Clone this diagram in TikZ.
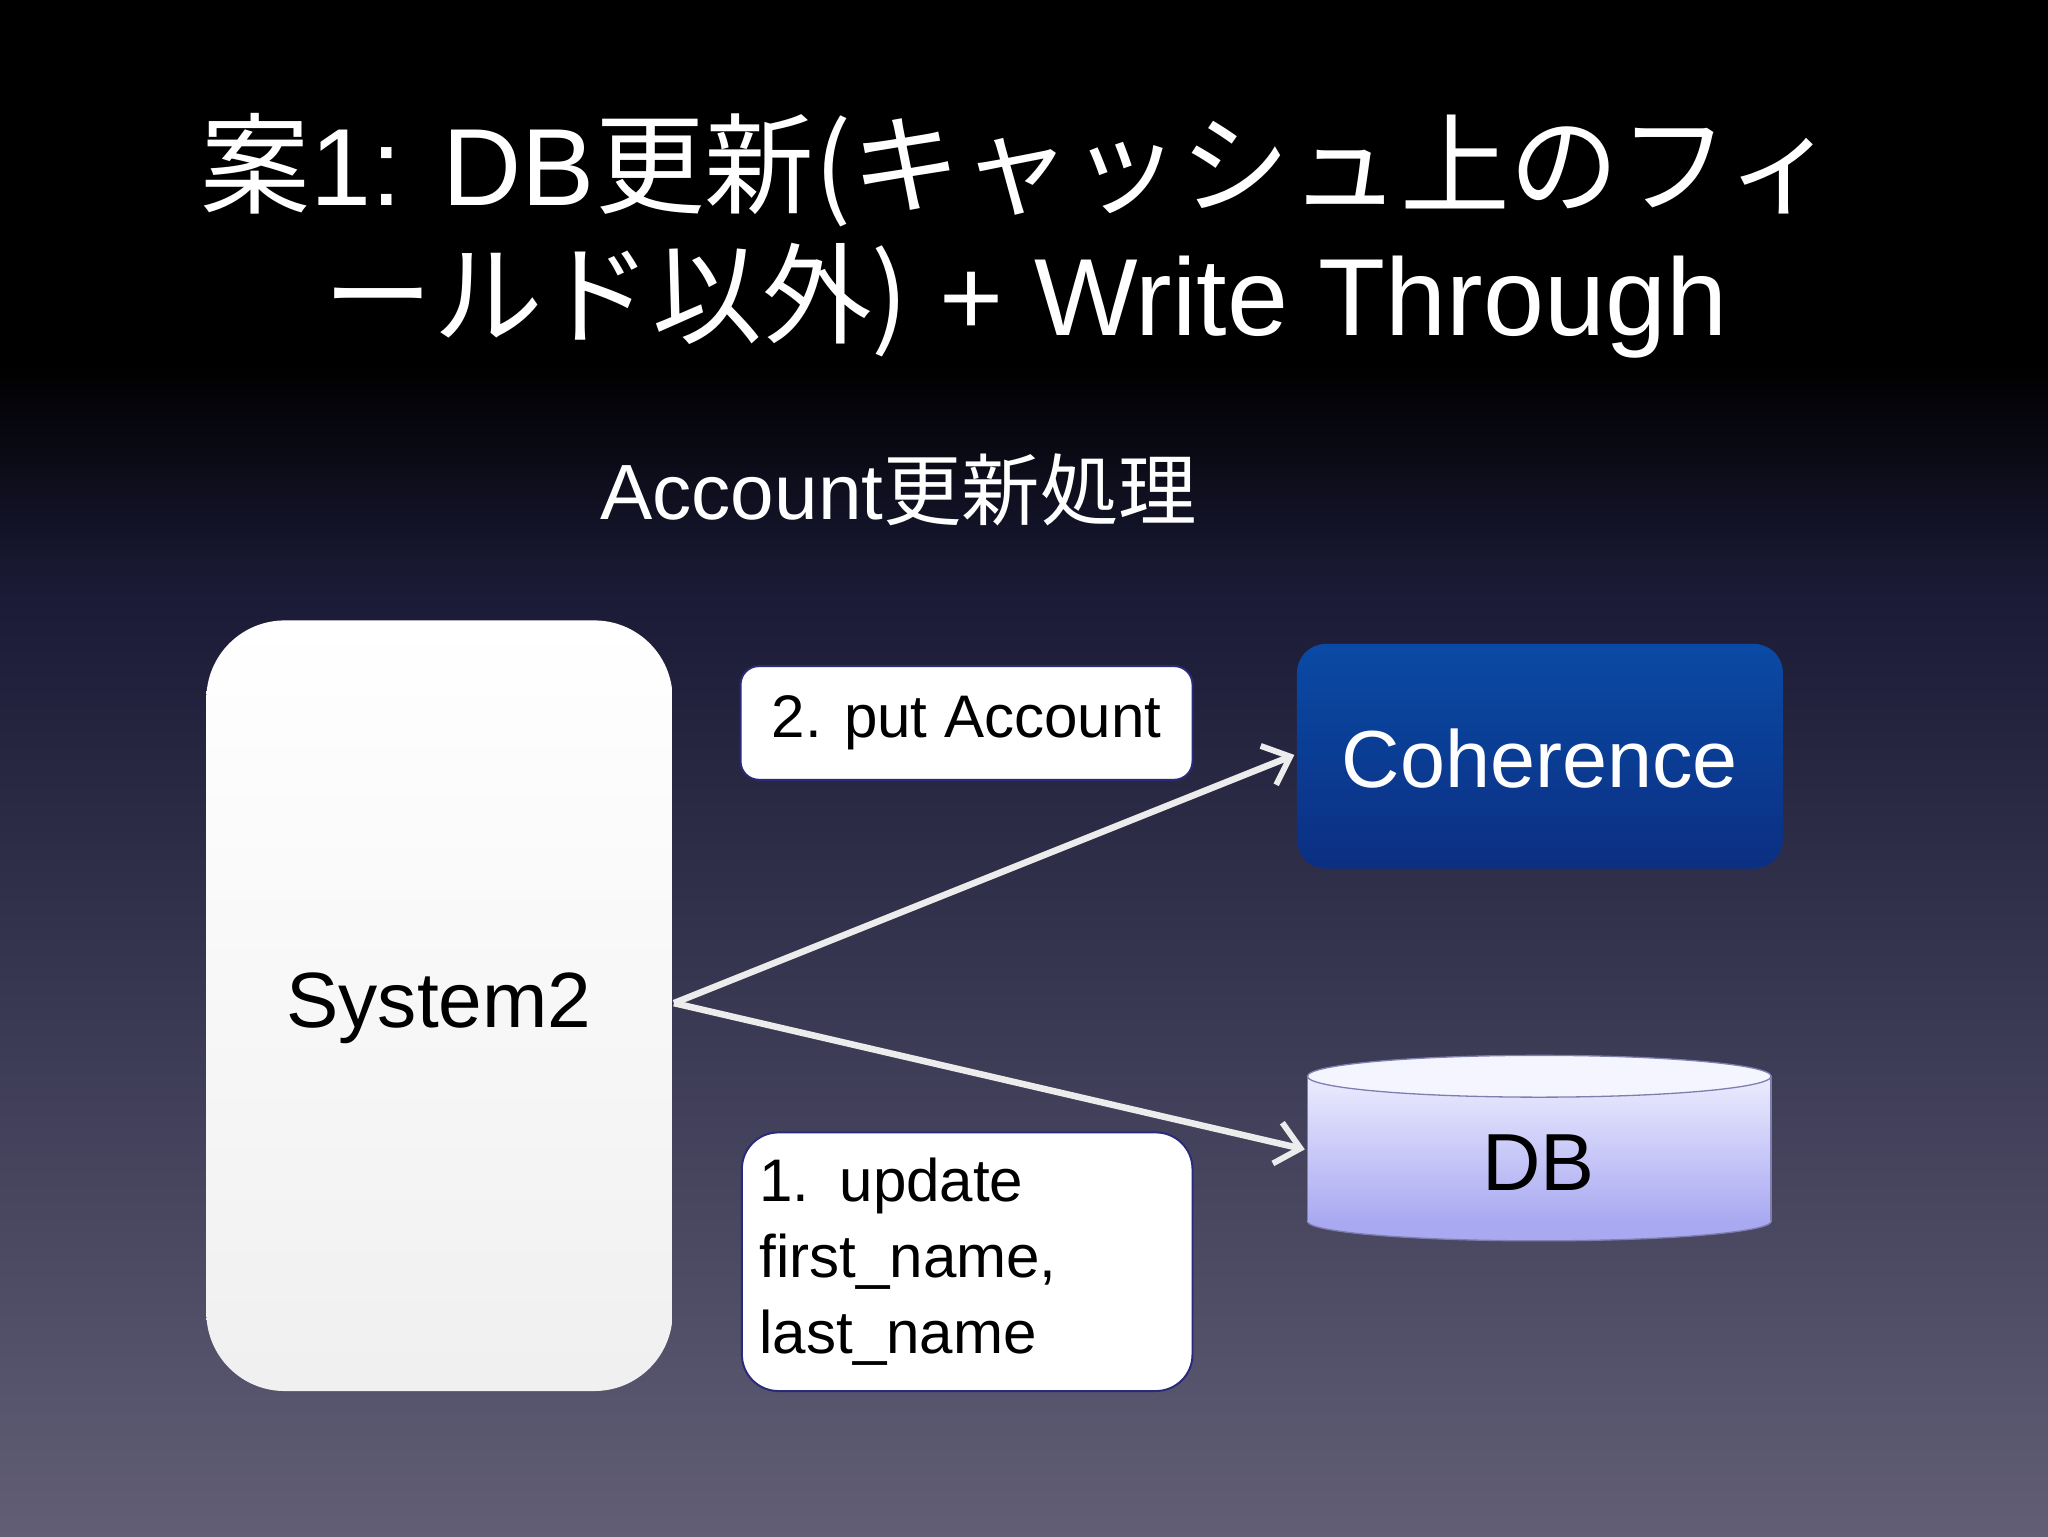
\documentclass[tikz,border=0pt]{standalone}
\usepackage{fontspec}
\setmainfont{Liberation Sans}
\newfontfamily\jp{Noto Sans CJK JP}
\usetikzlibrary{arrows.meta}
\definecolor{bgbot}{HTML}{615E76}
\definecolor{bgmid}{HTML}{1A1A36}
\definecolor{lblue}{HTML}{2A2A7A}
\definecolor{cohtop}{HTML}{0A4AA5}
\definecolor{cohbot}{HTML}{0B2F82}
\definecolor{dbtop}{HTML}{ECECFF}
\definecolor{dbbot}{HTML}{A9A9F2}
\tikzset{
  lbl/.style={draw=lblue,line width=1.5pt,fill=white,rounded corners=14pt,text=black,font=\fontsize{46}{58}\selectfont},
  conn/.style={draw=gray!15!white,line width=5pt,-{Straight Barb[length=18pt,width=32pt,line width=4.5pt]}}
}
\begin{document}
\begin{tikzpicture}[x=1pt,y=-1pt]
\useasboundingbox (0,0) rectangle (1568,1176);
\fill[black] (0,0) rectangle (1568,280);
\shade[top color=black,bottom color=bgmid] (0,279) rectangle (1568,450);
\shade[top color=bgmid,bottom color=bgbot] (0,449) rectangle (1568,1176);
\node[text=white,font=\fontsize{84}{100}\selectfont] (t1) at (780,130) {{\jp 案}1: DB{\jp 更新(キャッシュ上のフィ}};
\node[text=white,font=\fontsize{84}{100}\selectfont] (t2) at (785,230) {{\jp ールド以外)} + Write Through};
\node[text=white,font=\fontsize{60}{70}\selectfont] (sub) at (688,375) {Account{\jp 更新処理}};
% System2
\shade[top color=white,bottom color=gray!12,rounded corners=60pt] (158,475) rectangle (515,1065);
\node[font=\fontsize{60}{70}\selectfont] (sys) at (336,772) {System2};
\coordinate (s) at (516,768);
% Coherence
\shade[top color=cohtop,bottom color=cohbot,rounded corners=22pt] (993,493) rectangle (1365,665);
\node[text=white,font=\fontsize{62}{72}\selectfont] (coh) at (1179,581) {Coherence};
\coordinate (cin) at (991,578);
% DB cylinder
\fill[dbbot,draw=lblue!60,line width=1pt] (1178.5,935) ellipse[x radius=177.5,y radius=15];
\shade[top color=dbtop,bottom color=dbbot] (1001,824) rectangle (1356,935);
\draw[lblue!60,line width=1pt] (1001,824) -- (1001,935) (1356,824) -- (1356,935);
\draw[lblue!60,line width=1pt,fill=blue!4] (1178.5,824) ellipse[x radius=177.5,y radius=16];
\node[font=\fontsize{62}{72}\selectfont] (db) at (1178,890) {DB};
\coordinate (dbin) at (999,880);
% labels
\node[lbl,minimum width=346pt,minimum height=87pt] (l2) at (740,553.5) {2. put Account};
\node[lbl,rounded corners=28pt,minimum width=345pt,minimum height=198pt,align=left,text width=318pt,inner sep=10pt] (l1) at (740.5,966) {1. update\\first\_name,\\last\_name};
\draw[conn] (s) -- (cin);
\draw[conn] (s) -- (dbin);
\end{tikzpicture}
\end{document}
